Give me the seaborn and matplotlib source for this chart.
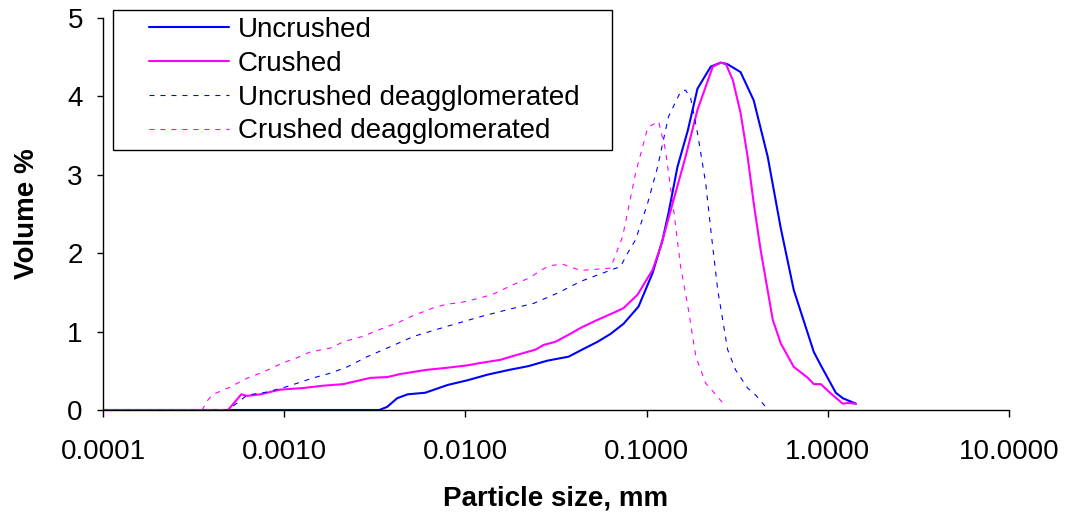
import numpy as np
import pandas as pd
import matplotlib
matplotlib.use("Agg")
import matplotlib.pyplot as plt
import seaborn as sns
from matplotlib.patches import Rectangle

# Particle size distributions (size in mm, volume %)
uncrushed_size = [0.0001, 0.00335, 0.0037, 0.0042, 0.0048, 0.0060, 0.0080, 0.0103, 0.0132,
                  0.0173, 0.0223, 0.0284, 0.0371, 0.0432, 0.0536, 0.0632, 0.0746, 0.0903,
                  0.108, 0.1225, 0.132, 0.148, 0.169, 0.191, 0.226, 0.256, 0.280, 0.330,
                  0.390, 0.466, 0.550, 0.649, 0.837, 0.915, 1.107, 1.21, 1.43]
uncrushed_vol = [0, 0, 0.04, 0.15, 0.20, 0.22, 0.32, 0.38, 0.45,
                 0.51, 0.56, 0.63, 0.68, 0.76, 0.87, 0.97, 1.10, 1.32,
                 1.75, 2.17, 2.51, 3.10, 3.57, 4.10, 4.38, 4.43, 4.41, 4.31,
                 3.95, 3.23, 2.32, 1.53, 0.74, 0.57, 0.22, 0.15, 0.08]

crushed_size = [0.0001, 0.00049, 0.00058, 0.000625, 0.00074, 0.00095, 0.00127, 0.00164,
                0.00212, 0.00299, 0.0037, 0.0044, 0.0060, 0.0080, 0.0103, 0.0121, 0.0156,
                0.0184, 0.0244, 0.027, 0.0314, 0.0371, 0.0443, 0.0536, 0.0657, 0.0746,
                0.0891, 0.108, 0.1195, 0.136, 0.164, 0.191, 0.232, 0.256, 0.273, 0.299,
                0.330, 0.361, 0.390, 0.426, 0.497, 0.550, 0.649, 0.776, 0.837, 0.915,
                1.04, 1.21, 1.29, 1.43]
crushed_vol = [0, 0, 0.20, 0.18, 0.20, 0.26, 0.28, 0.31,
               0.33, 0.41, 0.42, 0.46, 0.51, 0.54, 0.57, 0.60, 0.64,
               0.69, 0.77, 0.83, 0.87, 0.96, 1.06, 1.15, 1.24, 1.30,
               1.47, 1.79, 2.08, 2.55, 3.23, 3.83, 4.38, 4.43, 4.42, 4.21,
               3.79, 3.23, 2.64, 2.04, 1.15, 0.85, 0.55, 0.41, 0.33, 0.33,
               0.21, 0.08, 0.09, 0.08]

uncrushed_deag_size = [0.0001, 0.00049, 0.000625, 0.00081, 0.00104, 0.00145, 0.0018, 0.00223,
                       0.00287, 0.0037, 0.0052, 0.0080, 0.0121, 0.0171, 0.0238, 0.0322,
                       0.0432, 0.0578, 0.0718, 0.0785, 0.0869, 0.1014, 0.115, 0.132, 0.154,
                       0.164, 0.175, 0.191, 0.212, 0.226, 0.247, 0.280, 0.310, 0.361, 0.400,
                       0.454]
uncrushed_deag_vol = [0, 0, 0.19, 0.23, 0.30, 0.41, 0.47, 0.55,
                      0.68, 0.79, 0.94, 1.07, 1.19, 1.28, 1.36, 1.49,
                      1.64, 1.75, 1.83, 2.00, 2.17, 2.64, 3.10, 3.74, 4.06,
                      4.08, 3.98, 3.53, 2.89, 2.30, 1.53, 0.77, 0.51, 0.28, 0.19,
                      0.04]

crushed_deag_size = [0.0001, 0.000352, 0.00038, 0.000405, 0.00049, 0.00063, 0.00076, 0.00098,
                     0.00116, 0.00139, 0.0018, 0.00212, 0.00273, 0.0033, 0.0043, 0.0051,
                     0.0066, 0.0079, 0.0094, 0.0121, 0.0143, 0.0184, 0.0223, 0.0288, 0.0344,
                     0.0432, 0.0632, 0.0737, 0.0869, 0.1014, 0.108, 0.1165, 0.127, 0.141,
                     0.154, 0.169, 0.187, 0.212, 0.234, 0.263]
crushed_deag_vol = [0, 0, 0.13, 0.20, 0.28, 0.41, 0.48, 0.60,
                    0.66, 0.74, 0.79, 0.87, 0.94, 1.02, 1.12, 1.20,
                    1.30, 1.35, 1.37, 1.43, 1.48, 1.60, 1.68, 1.84, 1.86,
                    1.78, 1.81, 2.21, 3.02, 3.60, 3.64, 3.68, 3.32, 2.55,
                    1.83, 1.32, 0.68, 0.34, 0.23, 0.09]

series_names = ["Uncrushed", "Crushed", "Uncrushed deagglomerated", "Crushed deagglomerated"]
x_ticks = [0.0001, 0.001, 0.01, 0.1, 1.0, 10.0]
x_tick_labels = ["0.0001", "0.0010", "0.0100", "0.1000", "1.0000", "10.0000"]
y_ticks = [0, 1, 2, 3, 4, 5]

sns.set_theme(style="white")
plt.rcParams["font.family"] = ["Liberation Sans", "DejaVu Sans"]
plt.rcParams["lines.scale_dashes"] = False

W, H = 1067, 519
fig = plt.figure(figsize=(W / 100, H / 100), dpi=100)
ax = fig.add_axes([103 / W, 1 - 410 / H, 906 / W, 392 / H])

data = [(uncrushed_size, uncrushed_vol), (crushed_size, crushed_vol),
        (uncrushed_deag_size, uncrushed_deag_vol), (crushed_deag_size, crushed_deag_vol)]
styles = [
    dict(color="#0000ff", linewidth=1.5, linestyle="-"),
    dict(color="#ff00ff", linewidth=1.5, linestyle="-"),
    dict(color="#0000ff", linewidth=0.8, linestyle=(0, (3.6, 4.3))),
    dict(color="#ff00ff", linewidth=0.8, linestyle=(0, (3.6, 4.3))),
]
for name, (sz, vol), st in zip(series_names, data, styles):
    df = pd.DataFrame({"size": sz, "volume": vol})
    sns.lineplot(data=df, x="size", y="volume", ax=ax, sort=False, estimator=None,
                 label=name, **st)

ax.set_xscale("log")
ax.set_xlim(0.0001, 10)
ax.set_ylim(0, 5)
ax.set_xticks(x_ticks)
ax.set_xticklabels(x_tick_labels)
ax.minorticks_off()
ax.set_yticks(y_ticks)
ax.set_yticklabels([str(v) for v in y_ticks])

for side in ("top", "right"):
    ax.spines[side].set_visible(False)
for side in ("left", "bottom"):
    ax.spines[side].set_color("black")
    ax.spines[side].set_linewidth(1.0)

ax.tick_params(axis="x", which="major", direction="out", length=5, width=1,
               color="black", labelsize=20, pad=16, labelcolor="black", bottom=True)
ax.tick_params(axis="y", which="major", direction="out", length=4.5, width=1,
               color="black", labelsize=20, pad=10, labelcolor="black", left=True)
ax.grid(False)

ax.set_xlabel("Particle size, mm", fontsize=20, fontweight="bold", color="black")
ax.set_ylabel("Volume %", fontsize=20, fontweight="bold", color="black")
ax.xaxis.label.set_va("center")
ax.yaxis.label.set_va("center")
ax.xaxis.set_label_coords(0.5, (410 - 498) / 392)
ax.yaxis.set_label_coords((27 - 103) / 906, 0.5)

leg = ax.legend(loc="upper left", bbox_to_anchor=(149 / W, 1 - 17 / H),
                bbox_transform=fig.transFigure, frameon=False, fontsize=20,
                handlelength=2.88, handletextpad=0.32, labelspacing=0.28,
                borderpad=0, borderaxespad=0)
leg.set_zorder(6)
for t in leg.get_texts():
    t.set_color("black")

frame = Rectangle((113 / W, 1 - 150 / H), 499 / W, 140 / H, transform=fig.transFigure,
                  facecolor="white", edgecolor="black", linewidth=1.0, zorder=5,
                  clip_on=False)
ax.add_patch(frame)

fig.savefig("out.png", dpi=100)
